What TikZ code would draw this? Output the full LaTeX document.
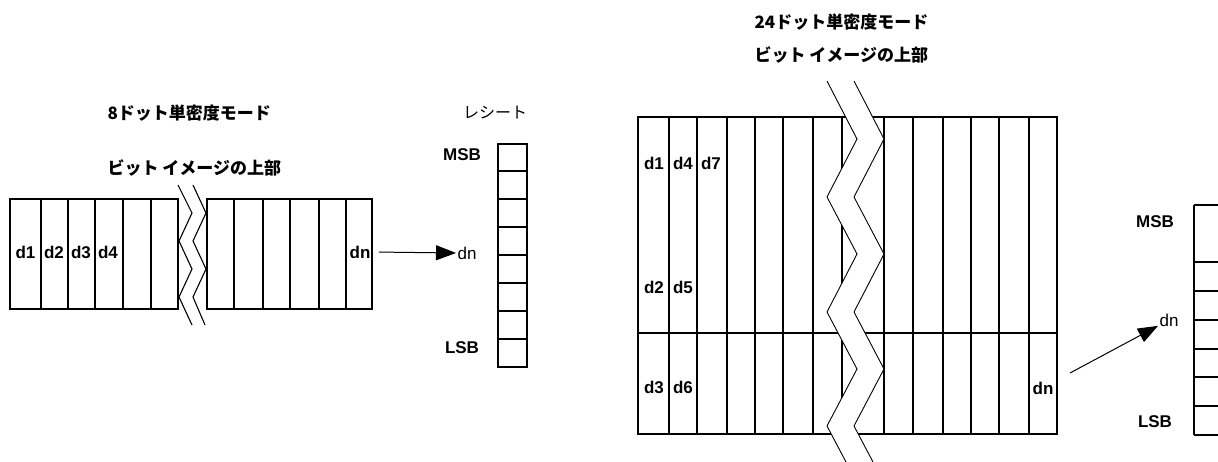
\documentclass[tikz,border=0pt]{standalone}
\usepackage{fontspec}
\setmainfont{Liberation Sans}
\newfontfamily\jp{Noto Sans CJK JP}
\usetikzlibrary{arrows.meta}
\begin{document}
\begin{tikzpicture}[x=1pt,y=-1pt,line width=1.1pt,
  lab/.style={font=\fontsize{17}{19}\selectfont\bfseries,inner sep=2pt},
  plain/.style={font=\fontsize{17}{19}\selectfont,inner sep=2pt},
  ttl/.style={font=\jp\bfseries\fontsize{17}{19}\selectfont,anchor=west,inner sep=0pt},
  arr/.style={-{Triangle[length=20pt,width=15pt]},line width=1pt}]
\clip (0,0) rectangle (1218,462);
\fill[white] (0,0) rectangle (1218,462);

% ---------- left diagram ----------
\node[ttl] (t1) at (107,113) {8ドット単密度モード};
\node[ttl] (t2) at (107,168) {ビット イメージの上部};

\draw (10,199) rectangle (178,309);
\foreach \x in {41,68,95,123,151} \draw (\x,199) -- (\x,309);
\draw (207,199) rectangle (372,309);
\foreach \x in {234,263,290,319,346} \draw (\x,199) -- (\x,309);
\draw (178,185) -- (192,213) -- (179,241) -- (192,269) -- (179,297) -- (192,325);
\draw (193,185) -- (206,213) -- (193,241) -- (206,269) -- (193,297) -- (205,325);

\node[lab] (a1) at (25.5,252) {d1};
\node[lab] (a2) at (54,252) {d2};
\node[lab] (a3) at (81,252) {d3};
\node[lab] (a4) at (108,252) {d4};
\node[lab] (an) at (360,252) {dn};

\node[font=\jp\fontsize{16}{18}\selectfont] (rc) at (495,113) {レシート};
\draw (498,144) rectangle (527,367);
\foreach \y in {171,199,227,255,283,311,339} \draw (498,\y) -- (527,\y);
\node[lab] (msb1) at (462,155) {MSB};
\node[lab] (lsb1) at (462,348) {LSB};
\node[plain,inner sep=1pt] (bn) at (467,253) {dn};
\draw[arr,shorten <=6pt] (an.east) -- (bn.west);

% ---------- right diagram ----------
\node[ttl] (t3) at (754,22) {24ドット単密度モード};
\node[ttl] (t4) at (754,55) {ビット イメージの上部};

\draw (638,117) rectangle (1057,434);
\foreach \x in {669,697,727,755,783,813,842,884,913,943,971,999,1029} \draw (\x,117) -- (\x,434);
\draw (638,333) -- (1057,333);
\fill[white] (827,81) -- (857,139) -- (827,197) -- (857,254) -- (827,312) -- (857,369) -- (827,426) -- (846,462)
  -- (873,462) -- (854,426) -- (884,369) -- (854,312) -- (884,254) -- (854,197) -- (884,139) -- (854,81) -- cycle;
\draw[line width=0.9pt] (827,81) -- (857,139) -- (827,197) -- (857,254) -- (827,312) -- (857,369) -- (827,426) -- (846,462);
\draw[line width=0.9pt] (854,81) -- (884,139) -- (854,197) -- (884,254) -- (854,312) -- (884,369) -- (854,426) -- (873,462);

\node[lab] (c1) at (654,163) {d1};
\node[lab] (c4) at (683,163) {d4};
\node[lab] (c7) at (711,163) {d7};
\node[lab] (c2) at (654,287) {d2};
\node[lab] (c5) at (683,287) {d5};
\node[lab] (c3) at (654,387) {d3};
\node[lab] (c6) at (683,387) {d6};
\node[lab] (cn) at (1043,388) {dn};

\draw (1194,205) -- (1194,435);
\foreach \y in {205,262,291,320,349,377,406,435} \draw (1194,\y) -- (1230,\y);
\node[lab] (msb2) at (1155,222) {MSB};
\node[lab] (lsb2) at (1155,422) {LSB};
\node[plain,inner sep=1pt] (dn2) at (1169,320) {dn};
\coordinate (s2) at (1070,373);
\draw[arr] (s2) -- (dn2);
\end{tikzpicture}
\end{document}
